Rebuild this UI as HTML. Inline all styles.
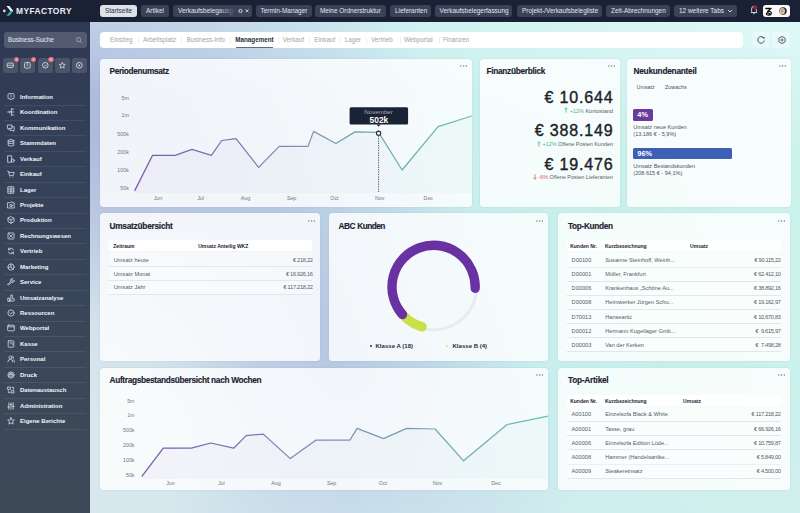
<!DOCTYPE html>
<html><head><meta charset="utf-8"><style>
*{box-sizing:border-box;margin:0;padding:0}
html,body{width:800px;height:513px;overflow:hidden;font-family:"Liberation Sans", sans-serif;}
body{position:relative;background:#1b2135;}
.a{position:absolute;white-space:nowrap}
#top{left:0;top:0;width:800px;height:22px;background:#1b2135}
.tab{position:absolute;top:5px;height:12px;border-radius:3px;background:#3a4257;color:#e4e7ee;font-size:6.45px;line-height:12px;padding-left:5px;overflow:hidden}
#side{left:0;top:22px;width:90px;height:491px;background:linear-gradient(180deg,#2f3953 0%,#36415a 35%,#3a4658 60%,#3e4958 100%)}
#main{left:90px;top:22px;width:710px;height:491px;background:radial-gradient(ellipse 260px 310px at 0px 420px, rgba(216,233,238,1), rgba(216,233,238,0.88) 38%, rgba(216,233,238,0.35) 70%, rgba(216,233,238,0) 100%),linear-gradient(180deg, rgba(214,238,240,0) 72%, rgba(214,238,240,0.6) 100%),radial-gradient(ellipse 420px 140px at 100% 0%, rgba(226,249,249,0.75), rgba(226,249,249,0) 100%),linear-gradient(180deg, rgba(225,248,248,0.3) 0%, rgba(225,248,248,0) 15%),linear-gradient(70deg,#adb9dd 0%,#adb9dd 15%,#b6c8e2 33%,#c0dbe8 46%,#c8eeee 56%,#c8f0ea 70%,#cdf3ec 100%)}
.card{position:absolute;background:rgba(255,255,255,0.82);border-radius:3.5px;box-shadow:0 0 2px rgba(80,100,140,0.15)}
.ttl{position:absolute;font-weight:bold;font-size:8.3px;letter-spacing:-0.25px;-webkit-text-stroke:0.15px #1e2230;color:#1e2230;white-space:nowrap}
.dots{position:absolute;font-size:6px;color:#888;letter-spacing:0.5px}
.mi{position:absolute;left:20px;font-size:6px;font-weight:bold;color:#f2f4f8;white-space:nowrap}
.sep{position:absolute;left:4px;width:82px;height:1px;background:rgba(255,255,255,0.08)}
.lbl{position:absolute;font-size:5px;color:#777c88;white-space:nowrap}
.td{position:absolute;font-size:5.65px;color:#555b66;white-space:pre}
.th{position:absolute;font-size:5px;font-weight:bold;color:#1e2230;white-space:nowrap}
</style></head>
<body>
<div class="a" id="top"></div>
<svg class="a" style="left:0;top:0" width="90" height="22" viewBox="0 0 90 22"><circle cx="4.3" cy="10.9" r="1.35" fill="#eadcb4"/><path d="M6.4 6 L9.3 6 L13.4 10.9 L10.5 10.9 Z" fill="#f4f5f8"/><path d="M10.5 10.9 L13.4 10.9 L9.3 15.8 L6.4 15.8 Z" fill="#3fb0a6"/></svg>
<div class="a" style="left:16px;top:6.1px;font-size:8.4px;font-weight:bold;color:#eef0f5;letter-spacing:0.42px;line-height:10px">MYFACTORY</div>
<div class="tab" style="left:100px;width:37px;background:#dde1ea;color:#2a2f3b;">Startseite</div>
<div class="tab" style="left:141px;width:28px;">Artikel</div>
<div class="tab" style="left:173px;width:79px;">Verkaufsbelegausgang</div>
<div class="tab" style="left:255.5px;width:56.5px;">Termin-Manager</div>
<div class="tab" style="left:315px;width:71px;">Meine Ordnerstruktur</div>
<div class="tab" style="left:390px;width:41px;">Lieferanten</div>
<div class="tab" style="left:434.5px;width:77.5px;">Verkaufsbelegerfassung</div>
<div class="tab" style="left:517px;width:85px;">Projekt-/Verkaufsbelegliste</div>
<div class="tab" style="left:606px;width:64px;">Zeit-Abrechnungen</div>
<div class="tab" style="left:674px;width:63px;">12 weitere Tabs</div>
<div class="a" id="side"></div>
<div class="a" style="left:3.5px;top:32px;width:83px;height:16px;border-radius:3px;background:#525b70"></div>
<div class="a" style="left:8px;top:32px;font-size:6.35px;line-height:16px;color:#d6dae2;-webkit-text-stroke:0.15px #d6dae2">Business-Suche</div>
<div class="mi" style="top:93.00px;line-height:8px">Information</div>
<div class="sep" style="top:104.50px"></div>
<div class="mi" style="top:108.43px;line-height:8px">Koordination</div>
<div class="sep" style="top:119.93px"></div>
<div class="mi" style="top:123.86px;line-height:8px">Kommunikation</div>
<div class="sep" style="top:135.36px"></div>
<div class="mi" style="top:139.29px;line-height:8px">Stammdaten</div>
<div class="sep" style="top:150.79px"></div>
<div class="mi" style="top:154.72px;line-height:8px">Verkauf</div>
<div class="sep" style="top:166.22px"></div>
<div class="mi" style="top:170.15px;line-height:8px">Einkauf</div>
<div class="sep" style="top:181.65px"></div>
<div class="mi" style="top:185.58px;line-height:8px">Lager</div>
<div class="sep" style="top:197.08px"></div>
<div class="mi" style="top:201.01px;line-height:8px">Projekte</div>
<div class="sep" style="top:212.51px"></div>
<div class="mi" style="top:216.44px;line-height:8px">Produktion</div>
<div class="sep" style="top:227.94px"></div>
<div class="mi" style="top:231.87px;line-height:8px">Rechnungswesen</div>
<div class="sep" style="top:243.37px"></div>
<div class="mi" style="top:247.30px;line-height:8px">Vertrieb</div>
<div class="sep" style="top:258.80px"></div>
<div class="mi" style="top:262.73px;line-height:8px">Marketing</div>
<div class="sep" style="top:274.23px"></div>
<div class="mi" style="top:278.16px;line-height:8px">Service</div>
<div class="sep" style="top:289.66px"></div>
<div class="mi" style="top:293.59px;line-height:8px">Umsatzanalyse</div>
<div class="sep" style="top:305.09px"></div>
<div class="mi" style="top:309.02px;line-height:8px">Ressourcen</div>
<div class="sep" style="top:320.52px"></div>
<div class="mi" style="top:324.45px;line-height:8px">Webportal</div>
<div class="sep" style="top:335.95px"></div>
<div class="mi" style="top:339.88px;line-height:8px">Kasse</div>
<div class="sep" style="top:351.38px"></div>
<div class="mi" style="top:355.31px;line-height:8px">Personal</div>
<div class="sep" style="top:366.81px"></div>
<div class="mi" style="top:370.74px;line-height:8px">Druck</div>
<div class="sep" style="top:382.24px"></div>
<div class="mi" style="top:386.17px;line-height:8px">Datenaustausch</div>
<div class="sep" style="top:397.67px"></div>
<div class="mi" style="top:401.60px;line-height:8px">Administration</div>
<div class="sep" style="top:413.10px"></div>
<div class="mi" style="top:417.03px;line-height:8px">Eigene Berichte</div>
<div class="sep" style="top:428.53px"></div>
<div class="a" id="main"></div>
<div class="a" style="left:100px;top:32px;width:643px;height:16px;border-radius:4px;background:#ffffff"></div>
<div class="card" style="left:100px;top:59px;width:372px;height:148px"></div>
<div class="ttl" style="left:109.5px;top:67.4px;line-height:9px;letter-spacing:-0.35px;word-spacing:0px">Periodenumsatz</div>
<div class="card" style="left:480px;top:59px;width:140px;height:148px"></div>
<div class="ttl" style="left:486.5px;top:67.4px;line-height:9px;letter-spacing:-0.3px;word-spacing:0px">Finanzüberblick</div>
<div class="card" style="left:627px;top:59px;width:164px;height:148px"></div>
<div class="ttl" style="left:633.5px;top:67.4px;line-height:9px;letter-spacing:-0.25px;word-spacing:0px">Neukundenanteil</div>
<div class="card" style="left:100px;top:213px;width:220px;height:148px"></div>
<div class="ttl" style="left:109.5px;top:222.0px;line-height:9px;letter-spacing:-0.25px;word-spacing:0px">Umsatzübersicht</div>
<div class="card" style="left:329px;top:213px;width:219px;height:148px"></div>
<div class="ttl" style="left:338.5px;top:222.0px;line-height:9px;letter-spacing:-0.55px;word-spacing:0.7px">ABC Kunden</div>
<div class="card" style="left:558px;top:213px;width:232px;height:148px"></div>
<div class="ttl" style="left:568px;top:222.0px;line-height:9px;letter-spacing:-0.35px;word-spacing:0px">Top-Kunden</div>
<div class="card" style="left:100px;top:368px;width:448px;height:122px"></div>
<div class="ttl" style="left:109.5px;top:376.4px;line-height:9px;letter-spacing:-0.33px;word-spacing:0px">Auftragsbestandsübersicht nach Wochen</div>
<div class="card" style="left:558px;top:368px;width:232px;height:122px"></div>
<div class="ttl" style="left:568px;top:376.4px;line-height:9px;letter-spacing:-0.25px;word-spacing:0px">Top-Artikel</div>
<div class="a" style="left:219px;top:5px;width:33px;height:12px;border-radius:0 3px 3px 0;background:linear-gradient(90deg,rgba(58,66,87,0) 0%,#3a4257 50%)"></div>
<svg class="a" style="left:237.3px;top:7px" width="14" height="8" viewBox="0 0 14 8"><circle cx="3.5" cy="4" r="1.6" fill="none" stroke="#e4e7ee" stroke-width="0.9"/><path d="M8.6 2.4 L11.4 5.2 M11.4 2.4 L8.6 5.2" stroke="#e4e7ee" stroke-width="0.9"/></svg>
<svg class="a" style="left:726px;top:8px" width="8" height="6" viewBox="0 0 8 6"><path d="M2 2 L4 4 L6 2" fill="none" stroke="#e4e7ee" stroke-width="0.9"/></svg>
<svg class="a" style="left:749px;top:4px" width="10" height="12" viewBox="0 0 10 12"><path d="M2 8.5 L2.6 7.6 L2.6 5 Q2.6 2.4 5 2.2 Q7.4 2.4 7.4 5 L7.4 7.6 L8 8.5 Z" fill="none" stroke="#dcdfe6" stroke-width="0.9"/><path d="M4.2 9.6 L5.8 9.6" stroke="#dcdfe6" stroke-width="0.9"/><circle cx="6.3" cy="3.4" r="2.2" fill="#8e2236"/></svg>
<div class="a" style="left:762.5px;top:5px;width:27.5px;height:12px;border-radius:3px;background:#fbfbfb"></div>
<svg class="a" style="left:764px;top:6.5px" width="10" height="10" viewBox="0 0 10 10"><path d="M1.8 1.5 L7 1.5 L3.6 4.6 Q7.4 4 7.3 6.3 Q7.1 8.3 4.6 8.2 Q2.4 8.1 2.3 6.7 Q2.6 5.6 4.4 6.2 L6.6 7.6" fill="none" stroke="#111" stroke-width="1.3" stroke-linejoin="round" stroke-linecap="round"/></svg>
<svg class="a" style="left:779px;top:7px" width="8" height="8" viewBox="0 0 8 8"><circle cx="4" cy="4" r="3.7" fill="#2a2420"/><ellipse cx="3.3" cy="4.1" rx="2.7" ry="3.2" fill="#d8c8b0"/><ellipse cx="3.2" cy="3.8" rx="1.4" ry="1.7" fill="#b89e82"/></svg>
<svg class="a" style="left:75px;top:36px" width="8" height="8" viewBox="0 0 8 8"><circle cx="3.6" cy="3.6" r="2.1" fill="none" stroke="#aab0bc" stroke-width="0.8"/><path d="M5.2 5.2 L6.8 6.8" stroke="#aab0bc" stroke-width="0.8"/></svg>
<div class="a" style="left:3px;top:58.2px;width:14.6px;height:14.6px;border-radius:2.5px;background:#4b5468"></div>
<div class="a" style="left:20px;top:58.2px;width:14.6px;height:14.6px;border-radius:2.5px;background:#4b5468"></div>
<div class="a" style="left:38px;top:58.2px;width:14.6px;height:14.6px;border-radius:2.5px;background:#4b5468"></div>
<div class="a" style="left:55.3px;top:58.2px;width:14.6px;height:14.6px;border-radius:2.5px;background:#4b5468"></div>
<div class="a" style="left:72.2px;top:58.2px;width:14.6px;height:14.6px;border-radius:2.5px;background:#4b5468"></div>
<svg class="a" style="left:3px;top:58.2px" width="15" height="15" viewBox="-7.3 -7.3 15 15"><rect x="-3" y="-2.2" width="6" height="4.4" rx="1" fill="none" stroke="#e6e8ee" stroke-width="0.8"/><path d="M-3 0 L3 0" stroke="#e6e8ee" stroke-width="0.7"/></svg>
<svg class="a" style="left:20px;top:58.2px" width="15" height="15" viewBox="-7.3 -7.3 15 15"><rect x="-2.8" y="-2.8" width="5.6" height="5.6" rx="1.2" fill="none" stroke="#e6e8ee" stroke-width="0.8"/><path d="M0 -2.8 L0 1" stroke="#e6e8ee" stroke-width="0.7"/></svg>
<svg class="a" style="left:38px;top:58.2px" width="15" height="15" viewBox="-7.3 -7.3 15 15"><circle r="2.8" fill="none" stroke="#e6e8ee" stroke-width="0.8"/><path d="M-1 0.2 L-0.1 1 L1.4 -0.8" fill="none" stroke="#e6e8ee" stroke-width="0.7"/></svg>
<svg class="a" style="left:55.3px;top:58.2px" width="15" height="15" viewBox="-7.3 -7.3 15 15"><path d="M0 -3 L0.9 -1 L3 -0.9 L1.4 0.6 L1.9 2.8 L0 1.7 L-1.9 2.8 L-1.4 0.6 L-3 -0.9 L-0.9 -1 Z" fill="none" stroke="#e6e8ee" stroke-width="0.7"/></svg>
<svg class="a" style="left:72.2px;top:58.2px" width="15" height="15" viewBox="-7.3 -7.3 15 15"><circle r="2.9" fill="none" stroke="#e6e8ee" stroke-width="0.8"/><circle r="0.9" fill="#e6e8ee"/></svg>
<div class="a" style="left:13.9px;top:56.9px;width:5.6px;height:5.6px;border-radius:50%;background:radial-gradient(circle,#f6c4ca 0%,#e27c8a 40%,#d0606e 75%,#a8404e 100%)"></div>
<div class="a" style="left:30.9px;top:56.9px;width:5.6px;height:5.6px;border-radius:50%;background:radial-gradient(circle,#f6c4ca 0%,#e27c8a 40%,#d0606e 75%,#a8404e 100%)"></div>
<div class="a" style="left:48.199999999999996px;top:56.9px;width:5.6px;height:5.6px;border-radius:50%;background:radial-gradient(circle,#f6c4ca 0%,#e27c8a 40%,#d0606e 75%,#a8404e 100%)"></div>
<div class="a" style="left:110px;top:36px;font-size:6.3px;line-height:8px;color:#a0a4ac">Einstieg</div>
<div class="a" style="left:143px;top:36px;font-size:6.3px;line-height:8px;color:#a0a4ac">Arbeitsplatz</div>
<div class="a" style="left:186.7px;top:36px;font-size:6.3px;line-height:8px;color:#a0a4ac">Business-Info</div>
<div class="a" style="left:235.2px;top:36px;font-size:6.3px;line-height:8px;font-weight:bold;color:#2a2f3b">Management</div>
<div class="a" style="left:282.7px;top:36px;font-size:6.3px;line-height:8px;color:#a0a4ac">Verkauf</div>
<div class="a" style="left:314.2px;top:36px;font-size:6.3px;line-height:8px;color:#a0a4ac">Einkauf</div>
<div class="a" style="left:344.8px;top:36px;font-size:6.3px;line-height:8px;color:#a0a4ac">Lager</div>
<div class="a" style="left:371px;top:36px;font-size:6.3px;line-height:8px;color:#a0a4ac">Vertrieb</div>
<div class="a" style="left:404px;top:36px;font-size:6.3px;line-height:8px;color:#a0a4ac">Webportal</div>
<div class="a" style="left:443px;top:36px;font-size:6.3px;line-height:8px;color:#a0a4ac">Finanzen</div>
<div class="a" style="left:137.5px;top:36.5px;width:0.6px;height:7px;background:#f0f1f4"></div>
<div class="a" style="left:181px;top:36.5px;width:0.6px;height:7px;background:#f0f1f4"></div>
<div class="a" style="left:230px;top:36.5px;width:0.6px;height:7px;background:#f0f1f4"></div>
<div class="a" style="left:277.5px;top:36.5px;width:0.6px;height:7px;background:#f0f1f4"></div>
<div class="a" style="left:309px;top:36.5px;width:0.6px;height:7px;background:#f0f1f4"></div>
<div class="a" style="left:339.5px;top:36.5px;width:0.6px;height:7px;background:#f0f1f4"></div>
<div class="a" style="left:366.2px;top:36.5px;width:0.6px;height:7px;background:#f0f1f4"></div>
<div class="a" style="left:399.9px;top:36.5px;width:0.6px;height:7px;background:#f0f1f4"></div>
<div class="a" style="left:438.6px;top:36.5px;width:0.6px;height:7px;background:#f0f1f4"></div>
<div class="a" style="left:235.5px;top:46.6px;width:37.5px;height:1px;background:#5f6884"></div>
<div class="a" style="left:752px;top:32px;width:18px;height:16px;border-radius:3px;background:rgba(255,255,255,0.35)"></div>
<div class="a" style="left:772px;top:32px;width:18px;height:16px;border-radius:3px;background:rgba(255,255,255,0.35)"></div>
<svg class="a" style="left:755px;top:34px" width="12" height="12" viewBox="-6 -6 12 12"><path d="M2.6 -2.2 A3.3 3.3 0 1 0 3.3 0.6" fill="none" stroke="#3a3f4c" stroke-width="0.9"/><path d="M1.2 -2.9 L3.3 -2.9 L3.3 -0.8 Z" fill="#3a3f4c"/></svg>
<svg class="a" style="left:775.5px;top:34px" width="12" height="12" viewBox="-6 -6 12 12"><path d="M0 -3.6 L3.1 -1.8 L3.1 1.8 L0 3.6 L-3.1 1.8 L-3.1 -1.8 Z" fill="none" stroke="#4a4f5c" stroke-width="0.9" stroke-linejoin="round"/><circle r="1.1" fill="none" stroke="#4a4f5c" stroke-width="0.8"/></svg>
<svg class="a" style="left:459.4px;top:64px" width="10" height="4" viewBox="0 0 10 4"><circle cx="1.8" cy="2" r="0.75" fill="#7a7f8a"/><circle cx="4.6" cy="2" r="0.75" fill="#7a7f8a"/><circle cx="7.4" cy="2" r="0.75" fill="#7a7f8a"/></svg>
<svg class="a" style="left:607.4px;top:64px" width="10" height="4" viewBox="0 0 10 4"><circle cx="1.8" cy="2" r="0.75" fill="#7a7f8a"/><circle cx="4.6" cy="2" r="0.75" fill="#7a7f8a"/><circle cx="7.4" cy="2" r="0.75" fill="#7a7f8a"/></svg>
<svg class="a" style="left:778.4px;top:64px" width="10" height="4" viewBox="0 0 10 4"><circle cx="1.8" cy="2" r="0.75" fill="#7a7f8a"/><circle cx="4.6" cy="2" r="0.75" fill="#7a7f8a"/><circle cx="7.4" cy="2" r="0.75" fill="#7a7f8a"/></svg>
<svg class="a" style="left:307.4px;top:218.6px" width="10" height="4" viewBox="0 0 10 4"><circle cx="1.8" cy="2" r="0.75" fill="#7a7f8a"/><circle cx="4.6" cy="2" r="0.75" fill="#7a7f8a"/><circle cx="7.4" cy="2" r="0.75" fill="#7a7f8a"/></svg>
<svg class="a" style="left:535.4px;top:218.6px" width="10" height="4" viewBox="0 0 10 4"><circle cx="1.8" cy="2" r="0.75" fill="#7a7f8a"/><circle cx="4.6" cy="2" r="0.75" fill="#7a7f8a"/><circle cx="7.4" cy="2" r="0.75" fill="#7a7f8a"/></svg>
<svg class="a" style="left:777.4px;top:218.6px" width="10" height="4" viewBox="0 0 10 4"><circle cx="1.8" cy="2" r="0.75" fill="#7a7f8a"/><circle cx="4.6" cy="2" r="0.75" fill="#7a7f8a"/><circle cx="7.4" cy="2" r="0.75" fill="#7a7f8a"/></svg>
<svg class="a" style="left:535.4px;top:373px" width="10" height="4" viewBox="0 0 10 4"><circle cx="1.8" cy="2" r="0.75" fill="#7a7f8a"/><circle cx="4.6" cy="2" r="0.75" fill="#7a7f8a"/><circle cx="7.4" cy="2" r="0.75" fill="#7a7f8a"/></svg>
<svg class="a" style="left:777.4px;top:373px" width="10" height="4" viewBox="0 0 10 4"><circle cx="1.8" cy="2" r="0.75" fill="#7a7f8a"/><circle cx="4.6" cy="2" r="0.75" fill="#7a7f8a"/><circle cx="7.4" cy="2" r="0.75" fill="#7a7f8a"/></svg>
<svg class="a" style="left:0;top:0" width="800" height="513" viewBox="0 0 800 513" font-family="Liberation Sans, sans-serif"><defs><linearGradient id="g1" gradientUnits="userSpaceOnUse" x1="135" y1="0" x2="472" y2="0"><stop offset="0" stop-color="#7a55b0"/><stop offset="0.5" stop-color="#7f93b0"/><stop offset="1" stop-color="#68bfb5"/></linearGradient><linearGradient id="g1f" gradientUnits="userSpaceOnUse" x1="135" y1="0" x2="472" y2="0"><stop offset="0" stop-color="#c8bde6" stop-opacity="0.13"/><stop offset="1" stop-color="#b5e3dd" stop-opacity="0.13"/></linearGradient></defs><path d="M134.6 190.9 L152.6 155.3 L175.1 155.3 L192.0 149.4 L211.4 155.3 L221.7 140.5 L236.0 138.6 L258.6 167.4 L279.2 146.4 L308.0 146.4 L313.6 131.4 L335.9 143.5 L355.0 131.9 L378.6 132.3 L402.1 170.0 L438.1 126.7 L471.8 116.0 L471.8 193 L134.6 193 Z" fill="url(#g1f)"/><path d="M134.6 190.9 L152.6 155.3 L175.1 155.3 L192.0 149.4 L211.4 155.3 L221.7 140.5 L236.0 138.6 L258.6 167.4 L279.2 146.4 L308.0 146.4 L313.6 131.4 L335.9 143.5 L355.0 131.9 L378.6 132.3 L402.1 170.0 L438.1 126.7 L471.8 116.0" fill="none" stroke="url(#g1)" stroke-width="1.25" stroke-linejoin="round"/><text x="128.8" y="99.7" text-anchor="end" font-size="5.3" fill="#70757f">5m</text><text x="128.8" y="117.2" text-anchor="end" font-size="5.3" fill="#70757f">1m</text><text x="128.8" y="136.0" text-anchor="end" font-size="5.3" fill="#70757f">500k</text><text x="128.8" y="154.0" text-anchor="end" font-size="5.3" fill="#70757f">200k</text><text x="128.8" y="172.3" text-anchor="end" font-size="5.3" fill="#70757f">100k</text><text x="128.8" y="190.3" text-anchor="end" font-size="5.3" fill="#70757f">50k</text><text x="158" y="199.8" text-anchor="middle" font-size="5.3" fill="#70757f">Jun</text><text x="200.6" y="199.8" text-anchor="middle" font-size="5.3" fill="#70757f">Jul</text><text x="245.5" y="199.8" text-anchor="middle" font-size="5.3" fill="#70757f">Aug</text><text x="291.6" y="199.8" text-anchor="middle" font-size="5.3" fill="#70757f">Sep</text><text x="334.4" y="199.8" text-anchor="middle" font-size="5.3" fill="#70757f">Oct</text><text x="379.6" y="199.8" text-anchor="middle" font-size="5.3" fill="#70757f">Nov</text><text x="428.3" y="199.8" text-anchor="middle" font-size="5.3" fill="#70757f">Dec</text><path d="M378.6 135.5 L378.6 192" stroke="#2e3340" stroke-width="0.8" stroke-dasharray="1.3 1.1"/><circle cx="378.6" cy="133.2" r="2.1" fill="#fff" stroke="#1c2333" stroke-width="1.1"/><rect x="349.6" y="107.2" width="58.5" height="17.4" rx="1.5" fill="#1a2236"/><path d="M376.6 124.5 L378.6 126.8 L380.6 124.5 Z" fill="#1a2236"/><text x="378.6" y="113.9" text-anchor="middle" font-size="6.2" fill="#a3abbb">November</text><text x="378.9" y="122.6" text-anchor="middle" font-size="8.4" font-weight="bold" fill="#ffffff">502k</text><defs><linearGradient id="g2" gradientUnits="userSpaceOnUse" x1="142" y1="0" x2="548" y2="0"><stop offset="0" stop-color="#7a55b0"/><stop offset="0.5" stop-color="#7f93b0"/><stop offset="1" stop-color="#68bfb5"/></linearGradient><linearGradient id="g2f" gradientUnits="userSpaceOnUse" x1="142" y1="0" x2="548" y2="0"><stop offset="0" stop-color="#c8bde6" stop-opacity="0.13"/><stop offset="1" stop-color="#b5e3dd" stop-opacity="0.13"/></linearGradient></defs><path d="M141.7 476.7 L163.3 448.2 L191.4 448.2 L210.7 443.0 L233.7 448.2 L246.1 435.6 L263.3 434.1 L290.3 458.6 L316.1 440.1 L349.9 440.1 L357.1 428.4 L383.5 438.6 L406.6 428.4 L435.1 429.0 L463.6 460.8 L507.1 424.5 L548.0 416.1 L548.0 479 L141.7 479 Z" fill="url(#g2f)"/><path d="M141.7 476.7 L163.3 448.2 L191.4 448.2 L210.7 443.0 L233.7 448.2 L246.1 435.6 L263.3 434.1 L290.3 458.6 L316.1 440.1 L349.9 440.1 L357.1 428.4 L383.5 438.6 L406.6 428.4 L435.1 429.0 L463.6 460.8 L507.1 424.5 L548.0 416.1" fill="none" stroke="url(#g2)" stroke-width="1.25" stroke-linejoin="round"/><text x="134.5" y="402.9" text-anchor="end" font-size="5.3" fill="#70757f">5m</text><text x="134.5" y="417.3" text-anchor="end" font-size="5.3" fill="#70757f">1m</text><text x="134.5" y="432.2" text-anchor="end" font-size="5.3" fill="#70757f">500k</text><text x="134.5" y="447.2" text-anchor="end" font-size="5.3" fill="#70757f">200k</text><text x="134.5" y="461.8" text-anchor="end" font-size="5.3" fill="#70757f">100k</text><text x="134.5" y="477.1" text-anchor="end" font-size="5.3" fill="#70757f">50k</text><text x="170.4" y="485.0" text-anchor="middle" font-size="5.3" fill="#70757f">Jun</text><text x="221.3" y="485.0" text-anchor="middle" font-size="5.3" fill="#70757f">Jul</text><text x="276" y="485.0" text-anchor="middle" font-size="5.3" fill="#70757f">Aug</text><text x="331.6" y="485.0" text-anchor="middle" font-size="5.3" fill="#70757f">Sep</text><text x="382.9" y="485.0" text-anchor="middle" font-size="5.3" fill="#70757f">Oct</text><text x="437.5" y="485.0" text-anchor="middle" font-size="5.3" fill="#70757f">Nov</text><text x="496" y="485.0" text-anchor="middle" font-size="5.3" fill="#70757f">Dec</text><circle cx="433.6" cy="286.9" r="43" fill="none" stroke="#e9ebef" stroke-width="3"/><path d="M422.13 326.89 A41.6 41.6 0 0 1 397.57 307.70" fill="none" stroke="#c9e04b" stroke-width="9.4" stroke-linecap="round"/><path d="M402.54 314.57 A41.6 41.6 0 1 1 475.17 288.35" fill="none" stroke="#6a31a3" stroke-width="9.4" stroke-linecap="round"/></svg>
<div class="a" style="right:186.39999999999998px;top:89.8px;font-size:16px;line-height:16px;color:#1b1f2a;letter-spacing:0.85px;-webkit-text-stroke:0.4px #1b1f2a">€ 10.644</div>
<div class="a" style="right:187px;top:106.6px;font-size:5.45px;line-height:8px;color:#555a66"><span style="color:#4fb58a"><svg width="4" height="6" viewBox="0 0 4 6" style="vertical-align:-0.5px"><path d="M2 5.6 L2 0.8 M0.5 2.3 L2 0.8 L3.5 2.3" fill="none" stroke="#4fb58a" stroke-width="0.8"/></svg> +12%</span> Kontostand</div>
<div class="a" style="right:186.39999999999998px;top:123.4px;font-size:16px;line-height:16px;color:#1b1f2a;letter-spacing:0.85px;-webkit-text-stroke:0.4px #1b1f2a">€ 388.149</div>
<div class="a" style="right:187px;top:140.0px;font-size:5.45px;line-height:8px;color:#555a66"><span style="color:#4fb58a"><svg width="4" height="6" viewBox="0 0 4 6" style="vertical-align:-0.5px"><path d="M2 5.6 L2 0.8 M0.5 2.3 L2 0.8 L3.5 2.3" fill="none" stroke="#4fb58a" stroke-width="0.8"/></svg> +12%</span> Offene Posten Kunden</div>
<div class="a" style="right:186.39999999999998px;top:156.6px;font-size:16px;line-height:16px;color:#1b1f2a;letter-spacing:0.85px;-webkit-text-stroke:0.4px #1b1f2a">€ 19.476</div>
<div class="a" style="right:187px;top:173.2px;font-size:5.45px;line-height:8px;color:#555a66"><span style="color:#d9605a"><svg width="4" height="6" viewBox="0 0 4 6" style="vertical-align:-0.5px"><path d="M2 0.4 L2 5.2 M0.5 3.7 L2 5.2 L3.5 3.7" fill="none" stroke="#d9605a" stroke-width="0.8"/></svg> -6%</span> Offene Posten Lieferanten</div>
<div class="a" style="left:636.5px;top:83px;font-size:5.4px;line-height:8px;color:#4a4f5a">Umsatz</div>
<div class="a" style="left:665px;top:83px;font-size:5.4px;line-height:8px;color:#4a4f5a">Zuwachs</div>
<div class="a" style="left:633.3px;top:109.3px;width:19.9px;height:11.4px;border-radius:1.5px;background:#6a3a9c;color:#fff;font-weight:bold;font-size:7.4px;line-height:11.4px;padding-left:4px">4%</div>
<div class="a" style="left:633.3px;top:124px;font-size:5.55px;line-height:7.5px;color:#4d525e">Umsatz neue Kunden</div>
<div class="a" style="left:633.3px;top:131.3px;font-size:5.55px;line-height:7.5px;color:#4d525e">(13.186 € - 5,9%)</div>
<div class="a" style="left:633.3px;top:148px;width:98.7px;height:11px;border-radius:1.5px;background:#3d5fb6;color:#fff;font-weight:bold;font-size:7.4px;line-height:11px;padding-left:4px">96%</div>
<div class="a" style="left:633.3px;top:162.7px;font-size:5.55px;line-height:7.5px;color:#4d525e">Umsatz Bestandskunden</div>
<div class="a" style="left:633.3px;top:170px;font-size:5.55px;line-height:7.5px;color:#4d525e">(208.615 € - 94,1%)</div>
<div class="a" style="left:108.8px;top:240.2px;width:203.5px;height:10.600000000000023px;background:rgba(255,255,255,0.9);border-radius:1px"></div><div class="th" style="left:113.3px;top:241.50px;line-height:8px">Zeitraum</div><div class="th" style="left:198.2px;top:241.50px;line-height:8px">Umsatz Anteilig WKZ</div><div class="a" style="left:108.8px;top:253.15px;width:203.5px;height:13.20px;background:rgba(255,255,255,0.35)"></div><div class="a" style="left:108.8px;top:266.15px;width:203.5px;height:0.6px;background:#e3e7ec"></div><div class="td" style="left:113.8px;top:255.75px;line-height:8px">Umsatz heute</div><div class="td" style="right:487.4px;top:255.75px;line-height:8px;letter-spacing:-0.28px">€ 218,22</div><div class="a" style="left:108.8px;top:266.95px;width:203.5px;height:13.20px;background:rgba(255,255,255,0.35)"></div><div class="a" style="left:108.8px;top:279.95px;width:203.5px;height:0.6px;background:#e3e7ec"></div><div class="td" style="left:113.8px;top:269.55px;line-height:8px">Umsatz Monat</div><div class="td" style="right:487.4px;top:269.55px;line-height:8px;letter-spacing:-0.28px">€ 16.926,16</div><div class="a" style="left:108.8px;top:280.75px;width:203.5px;height:13.20px;background:rgba(255,255,255,0.35)"></div><div class="a" style="left:108.8px;top:293.75px;width:203.5px;height:0.6px;background:#e3e7ec"></div><div class="td" style="left:113.8px;top:283.35px;line-height:8px">Umsatz Jahr</div><div class="td" style="right:487.4px;top:283.35px;line-height:8px;letter-spacing:-0.28px">€ 117.218,22</div>
<div class="a" style="left:567.2px;top:240.2px;width:214.0999999999999px;height:11.0px;background:rgba(255,255,255,0.9);border-radius:1px"></div><div class="th" style="left:570.2px;top:241.70px;line-height:8px">Kunden Nr.</div><div class="th" style="left:605px;top:241.70px;line-height:8px">Kurzbezeichnung</div><div class="th" style="left:690.1px;top:241.70px;line-height:8px">Umsatz</div><div class="a" style="left:567.2px;top:253.34px;width:214.0999999999999px;height:13.53px;background:rgba(255,255,255,0.35)"></div><div class="a" style="left:567.2px;top:266.67px;width:214.0999999999999px;height:0.6px;background:#e3e7ec"></div><div class="td" style="left:571.6px;top:256.10px;line-height:8px">D00100</div><div class="td" style="left:605.2px;top:256.10px;line-height:8px">Susanne Steinhoff, Weinh...</div><div class="td" style="right:19.300000000000022px;top:256.10px;line-height:8px;letter-spacing:-0.28px">€ 90.115,22</div><div class="a" style="left:567.2px;top:267.47px;width:214.0999999999999px;height:13.53px;background:rgba(255,255,255,0.35)"></div><div class="a" style="left:567.2px;top:280.80px;width:214.0999999999999px;height:0.6px;background:#e3e7ec"></div><div class="td" style="left:571.6px;top:270.23px;line-height:8px">D00001</div><div class="td" style="left:605.2px;top:270.23px;line-height:8px">Müller, Frankfurt</div><div class="td" style="right:19.300000000000022px;top:270.23px;line-height:8px;letter-spacing:-0.28px">€ 62.412,10</div><div class="a" style="left:567.2px;top:281.60px;width:214.0999999999999px;height:13.53px;background:rgba(255,255,255,0.35)"></div><div class="a" style="left:567.2px;top:294.93px;width:214.0999999999999px;height:0.6px;background:#e3e7ec"></div><div class="td" style="left:571.6px;top:284.36px;line-height:8px">D00006</div><div class="td" style="left:605.2px;top:284.36px;line-height:8px">Krankenhaus „Schöne Au...</div><div class="td" style="right:19.300000000000022px;top:284.36px;line-height:8px;letter-spacing:-0.28px">€ 38.892,16</div><div class="a" style="left:567.2px;top:295.73px;width:214.0999999999999px;height:13.53px;background:rgba(255,255,255,0.35)"></div><div class="a" style="left:567.2px;top:309.06px;width:214.0999999999999px;height:0.6px;background:#e3e7ec"></div><div class="td" style="left:571.6px;top:298.49px;line-height:8px">D00008</div><div class="td" style="left:605.2px;top:298.49px;line-height:8px">Heimwerker Jürgen Schu...</div><div class="td" style="right:19.300000000000022px;top:298.49px;line-height:8px;letter-spacing:-0.28px">€ 19.162,97</div><div class="a" style="left:567.2px;top:309.86px;width:214.0999999999999px;height:13.53px;background:rgba(255,255,255,0.35)"></div><div class="a" style="left:567.2px;top:323.19px;width:214.0999999999999px;height:0.6px;background:#e3e7ec"></div><div class="td" style="left:571.6px;top:312.62px;line-height:8px">D70013</div><div class="td" style="left:605.2px;top:312.62px;line-height:8px">Hanseartic</div><div class="td" style="right:19.300000000000022px;top:312.62px;line-height:8px;letter-spacing:-0.28px">€ 10.670,83</div><div class="a" style="left:567.2px;top:323.99px;width:214.0999999999999px;height:13.53px;background:rgba(255,255,255,0.35)"></div><div class="a" style="left:567.2px;top:337.31px;width:214.0999999999999px;height:0.6px;background:#e3e7ec"></div><div class="td" style="left:571.6px;top:326.75px;line-height:8px">D00012</div><div class="td" style="left:605.2px;top:326.75px;line-height:8px">Hermann Kugellager Gmb...</div><div class="td" style="right:19.300000000000022px;top:326.75px;line-height:8px;letter-spacing:-0.28px">€  9.615,97</div><div class="a" style="left:567.2px;top:338.12px;width:214.0999999999999px;height:13.53px;background:rgba(255,255,255,0.35)"></div><div class="a" style="left:567.2px;top:351.44px;width:214.0999999999999px;height:0.6px;background:#e3e7ec"></div><div class="td" style="left:571.6px;top:340.88px;line-height:8px">D00003</div><div class="td" style="left:605.2px;top:340.88px;line-height:8px">Van der Kerken</div><div class="td" style="right:19.300000000000022px;top:340.88px;line-height:8px;letter-spacing:-0.28px">€  7.498,28</div>
<div class="a" style="left:567.2px;top:395px;width:214.0999999999999px;height:11px;background:rgba(255,255,255,0.9);border-radius:1px"></div><div class="th" style="left:570.2px;top:396.50px;line-height:8px">Kunden Nr.</div><div class="th" style="left:605px;top:396.50px;line-height:8px">Kurzbezeichnung</div><div class="th" style="left:683.1px;top:396.50px;line-height:8px">Umsatz</div><div class="a" style="left:567.2px;top:407.60px;width:214.0999999999999px;height:13.60px;background:rgba(255,255,255,0.35)"></div><div class="a" style="left:567.2px;top:421.00px;width:214.0999999999999px;height:0.6px;background:#e3e7ec"></div><div class="td" style="left:571.6px;top:410.40px;line-height:8px">A00100</div><div class="td" style="left:605.2px;top:410.40px;line-height:8px">Einzelsofa Black &amp; White</div><div class="td" style="right:19.300000000000022px;top:410.40px;line-height:8px;letter-spacing:-0.28px">€ 117.218,22</div><div class="a" style="left:567.2px;top:421.80px;width:214.0999999999999px;height:13.60px;background:rgba(255,255,255,0.35)"></div><div class="a" style="left:567.2px;top:435.20px;width:214.0999999999999px;height:0.6px;background:#e3e7ec"></div><div class="td" style="left:571.6px;top:424.60px;line-height:8px">A00001</div><div class="td" style="left:605.2px;top:424.60px;line-height:8px">Tasse, grau</div><div class="td" style="right:19.300000000000022px;top:424.60px;line-height:8px;letter-spacing:-0.28px">€ 66.926,16</div><div class="a" style="left:567.2px;top:436.00px;width:214.0999999999999px;height:13.60px;background:rgba(255,255,255,0.35)"></div><div class="a" style="left:567.2px;top:449.40px;width:214.0999999999999px;height:0.6px;background:#e3e7ec"></div><div class="td" style="left:571.6px;top:438.80px;line-height:8px">A00006</div><div class="td" style="left:605.2px;top:438.80px;line-height:8px">Einzelsofa Edition Lüde...</div><div class="td" style="right:19.300000000000022px;top:438.80px;line-height:8px;letter-spacing:-0.28px">€ 10.759,87</div><div class="a" style="left:567.2px;top:450.20px;width:214.0999999999999px;height:13.60px;background:rgba(255,255,255,0.35)"></div><div class="a" style="left:567.2px;top:463.60px;width:214.0999999999999px;height:0.6px;background:#e3e7ec"></div><div class="td" style="left:571.6px;top:453.00px;line-height:8px">A00008</div><div class="td" style="left:605.2px;top:453.00px;line-height:8px">Hammer (Handelsartike...</div><div class="td" style="right:19.300000000000022px;top:453.00px;line-height:8px;letter-spacing:-0.28px">€ 5.849,00</div><div class="a" style="left:567.2px;top:464.40px;width:214.0999999999999px;height:13.60px;background:rgba(255,255,255,0.35)"></div><div class="a" style="left:567.2px;top:477.80px;width:214.0999999999999px;height:0.6px;background:#e3e7ec"></div><div class="td" style="left:571.6px;top:467.20px;line-height:8px">A00009</div><div class="td" style="left:605.2px;top:467.20px;line-height:8px">Steakereinsatz</div><div class="td" style="right:19.300000000000022px;top:467.20px;line-height:8px;letter-spacing:-0.28px">€ 4.500,00</div>
<div class="a" style="left:369.5px;top:345px;width:2px;height:2px;border-radius:50%;background:#2a2f3b"></div>
<div class="a" style="left:375.5px;top:342px;font-size:6.05px;line-height:8px;font-weight:bold;color:#2a2f3b">Klasse A (18)</div>
<div class="a" style="left:446.3px;top:345px;width:2px;height:2px;border-radius:50%;background:#d4e47a"></div>
<div class="a" style="left:452.5px;top:342px;font-size:6.05px;line-height:8px;font-weight:bold;color:#2a2f3b">Klasse B (4)</div>
<svg class="a" style="left:5px;top:92.00px" width="12" height="10" viewBox="-6 -5 12 10"><g fill="none" stroke="#dfe3ea" stroke-width="0.75" stroke-linejoin="round" stroke-linecap="round"><path d="M-3 -2.6 Q-3 -3.4 -2.2 -3.4 L2.2 -3.4 Q3 -3.4 3 -2.6 L3 1 Q3 1.8 2.2 1.8 L0.8 1.8 L0 3 L-0.8 1.8 L-2.2 1.8 Q-3 1.8 -3 1 Z M0 -2 L0 0.2"/></g></svg>
<svg class="a" style="left:5px;top:107.43px" width="12" height="10" viewBox="-6 -5 12 10"><g fill="none" stroke="#dfe3ea" stroke-width="0.75" stroke-linejoin="round" stroke-linecap="round"><path d="M-3.4 0 L-0.6 0 M-1.6 -1 L-0.6 0 L-1.6 1 M0.4 -3 L0.4 3 M0.4 -3 L2.8 -3 M0.4 0 L2.8 0 M0.4 3 L2.8 3"/></g></svg>
<svg class="a" style="left:5px;top:122.86px" width="12" height="10" viewBox="-6 -5 12 10"><g fill="none" stroke="#dfe3ea" stroke-width="0.75" stroke-linejoin="round" stroke-linecap="round"><path d="M-3.2 -3 L1 -3 L1 0.4 L-1.4 0.4 L-2.6 1.6 L-2.6 0.4 L-3.2 0.4 Z M1 -1.2 L3.2 -1.2 L3.2 2.4 L2.6 2.4 L2.6 3.4 L1.4 2.4 L-1 2.4 L-1 0.6"/></g></svg>
<svg class="a" style="left:5px;top:138.29px" width="12" height="10" viewBox="-6 -5 12 10"><g fill="none" stroke="#dfe3ea" stroke-width="0.75" stroke-linejoin="round" stroke-linecap="round"><ellipse cx="0" cy="-2.4" rx="2.8" ry="1"/><path d="M-2.8 -2.4 L-2.8 2.4 Q0 3.8 2.8 2.4 L2.8 -2.4 M-2.8 0 Q0 1.4 2.8 0"/></g></svg>
<svg class="a" style="left:5px;top:153.72px" width="12" height="10" viewBox="-6 -5 12 10"><g fill="none" stroke="#dfe3ea" stroke-width="0.75" stroke-linejoin="round" stroke-linecap="round"><path d="M-3 -3.2 L0.6 -3.2 L0.6 3.2 L-3 3.2 Z"/><circle cx="1.8" cy="1.6" r="1.5"/></g></svg>
<svg class="a" style="left:5px;top:169.15px" width="12" height="10" viewBox="-6 -5 12 10"><g fill="none" stroke="#dfe3ea" stroke-width="0.75" stroke-linejoin="round" stroke-linecap="round"><path d="M-3.4 -2.8 L-2.4 -2.8 L-1.6 1.4 L2.4 1.4 L3.2 -1.6 L-2 -1.6 M-1.2 3 L-1 3 M1.8 3 L2 3"/></g></svg>
<svg class="a" style="left:5px;top:184.58px" width="12" height="10" viewBox="-6 -5 12 10"><g fill="none" stroke="#dfe3ea" stroke-width="0.75" stroke-linejoin="round" stroke-linecap="round"><path d="M-2.8 -3.2 L2.8 -3.2 L2.8 3.2 L-2.8 3.2 Z M-2.8 -1 L2.8 -1 M-2.8 1.1 L2.8 1.1 M0 -3.2 L0 3.2"/></g></svg>
<svg class="a" style="left:5px;top:200.01px" width="12" height="10" viewBox="-6 -5 12 10"><g fill="none" stroke="#dfe3ea" stroke-width="0.75" stroke-linejoin="round" stroke-linecap="round"><path d="M-3.2 -2.2 L-1 -2.2 L-0.4 -3 L1.4 -3 L1.4 -2.2 L3.2 -2.2 L3.2 3 L-3.2 3 Z"/><circle cx="0" cy="0.6" r="1.2"/></g></svg>
<svg class="a" style="left:5px;top:215.44px" width="12" height="10" viewBox="-6 -5 12 10"><g fill="none" stroke="#dfe3ea" stroke-width="0.75" stroke-linejoin="round" stroke-linecap="round"><path d="M0 -3.3 L3 -1.7 L3 1.7 L0 3.3 L-3 1.7 L-3 -1.7 Z M-3 -1.7 L0 0 L3 -1.7 M0 0 L0 3.3"/></g></svg>
<svg class="a" style="left:5px;top:230.87px" width="12" height="10" viewBox="-6 -5 12 10"><g fill="none" stroke="#dfe3ea" stroke-width="0.75" stroke-linejoin="round" stroke-linecap="round"><rect x="-3" y="-3" width="6" height="6" rx="0.8"/><path d="M-1.4 -1.4 L1.4 1.4 M1.4 -1.4 L-1.4 1.4"/></g></svg>
<svg class="a" style="left:5px;top:246.30px" width="12" height="10" viewBox="-6 -5 12 10"><g fill="none" stroke="#dfe3ea" stroke-width="0.75" stroke-linejoin="round" stroke-linecap="round"><path d="M2.6 -1 A2.8 2.8 0 0 0 -2.4 -1.4 M-2.6 1 A2.8 2.8 0 0 0 2.4 1.4 M-2.4 -3 L-2.4 -1.2 L-0.8 -1.2 M2.4 3 L2.4 1.2 L0.8 1.2"/></g></svg>
<svg class="a" style="left:5px;top:261.73px" width="12" height="10" viewBox="-6 -5 12 10"><g fill="none" stroke="#dfe3ea" stroke-width="0.75" stroke-linejoin="round" stroke-linecap="round"><circle r="3.1"/><path d="M-3 0.4 L0 0 L0 -3.1 M0 0 L2 2.4"/></g></svg>
<svg class="a" style="left:5px;top:277.16px" width="12" height="10" viewBox="-6 -5 12 10"><g fill="none" stroke="#dfe3ea" stroke-width="0.75" stroke-linejoin="round" stroke-linecap="round"><path d="M-3.2 2.4 L-2.4 3.2 L0.4 0.4 Q2.4 1 3.2 -0.8 L3.3 -1.8 L2 -0.6 L0.8 -1 L0.6 -2.2 L1.8 -3.4 Q-0.4 -3.6 -0.6 -1.4 Q-0.6 -0.8 -0.4 -0.4 Z"/></g></svg>
<svg class="a" style="left:5px;top:292.59px" width="12" height="10" viewBox="-6 -5 12 10"><g fill="none" stroke="#dfe3ea" stroke-width="0.75" stroke-linejoin="round" stroke-linecap="round"><path d="M-3.2 3 L-3.2 0 L-1.6 0 L-1.6 3 Z M-1.6 3 L3.2 3 L3.2 0.6 L1.4 0.6 L1.4 -3 L-0.2 -3 L-0.2 3"/></g></svg>
<svg class="a" style="left:5px;top:308.02px" width="12" height="10" viewBox="-6 -5 12 10"><g fill="none" stroke="#dfe3ea" stroke-width="0.75" stroke-linejoin="round" stroke-linecap="round"><circle r="3.1"/><path d="M-1.3 0.1 L-0.3 1 L1.4 -0.9"/></g></svg>
<svg class="a" style="left:5px;top:323.45px" width="12" height="10" viewBox="-6 -5 12 10"><g fill="none" stroke="#dfe3ea" stroke-width="0.75" stroke-linejoin="round" stroke-linecap="round"><rect x="-3.3" y="-2.8" width="6.6" height="5.6" rx="0.6"/><path d="M-3.3 -1.2 L3.3 -1.2"/></g></svg>
<svg class="a" style="left:5px;top:338.88px" width="12" height="10" viewBox="-6 -5 12 10"><g fill="none" stroke="#dfe3ea" stroke-width="0.75" stroke-linejoin="round" stroke-linecap="round"><rect x="-2.8" y="-3.2" width="5.6" height="6.4" rx="0.6"/><path d="M-1.2 -1.2 L1.2 -1.2 L1.2 0.8"/></g></svg>
<svg class="a" style="left:5px;top:354.31px" width="12" height="10" viewBox="-6 -5 12 10"><g fill="none" stroke="#dfe3ea" stroke-width="0.75" stroke-linejoin="round" stroke-linecap="round"><circle cx="-0.6" cy="-1.6" r="1.5"/><path d="M-3.2 3 Q-3 0.4 -0.6 0.4 Q1.8 0.4 2 3 M1.6 -3 Q2.8 -2.6 2.4 -0.8 M2.6 0.6 Q3.4 1.2 3.4 3"/></g></svg>
<svg class="a" style="left:5px;top:369.74px" width="12" height="10" viewBox="-6 -5 12 10"><g fill="none" stroke="#dfe3ea" stroke-width="0.75" stroke-linejoin="round" stroke-linecap="round"><circle r="3.1"/><path d="M-1.6 -0.6 L1.6 -0.6 L1.6 1.2 L-1.6 1.2 Z M-1 -0.6 L-1 -1.8 L1 -1.8 L1 -0.6"/></g></svg>
<svg class="a" style="left:5px;top:385.17px" width="12" height="10" viewBox="-6 -5 12 10"><g fill="none" stroke="#dfe3ea" stroke-width="0.75" stroke-linejoin="round" stroke-linecap="round"><path d="M-3 -3 L-0.6 -3 L-0.6 -0.6 L-3 -0.6 Z M0.6 0.6 L3 0.6 L3 3 L0.6 3 Z M1 -2.6 L2.6 -2.6 L2.6 -0.8 M-2.6 0.8 L-2.6 2.6 L-1 2.6"/></g></svg>
<svg class="a" style="left:5px;top:400.60px" width="12" height="10" viewBox="-6 -5 12 10"><g fill="none" stroke="#dfe3ea" stroke-width="0.75" stroke-linejoin="round" stroke-linecap="round"><path d="M-2.2 -3.2 L-2.2 3.2 M0 -3.2 L0 3.2 M2.2 -3.2 L2.2 3.2 M-3.2 1 L-1.2 1 M-1 -1.4 L1 -1.4 M1.2 0.4 L3.2 0.4"/></g></svg>
<svg class="a" style="left:5px;top:416.03px" width="12" height="10" viewBox="-6 -5 12 10"><g fill="none" stroke="#dfe3ea" stroke-width="0.75" stroke-linejoin="round" stroke-linecap="round"><path d="M0 -3.3 L1 -1.1 L3.3 -0.9 L1.6 0.7 L2.1 3.1 L0 1.9 L-2.1 3.1 L-1.6 0.7 L-3.3 -0.9 L-1 -1.1 Z"/></g></svg>
</body></html>
